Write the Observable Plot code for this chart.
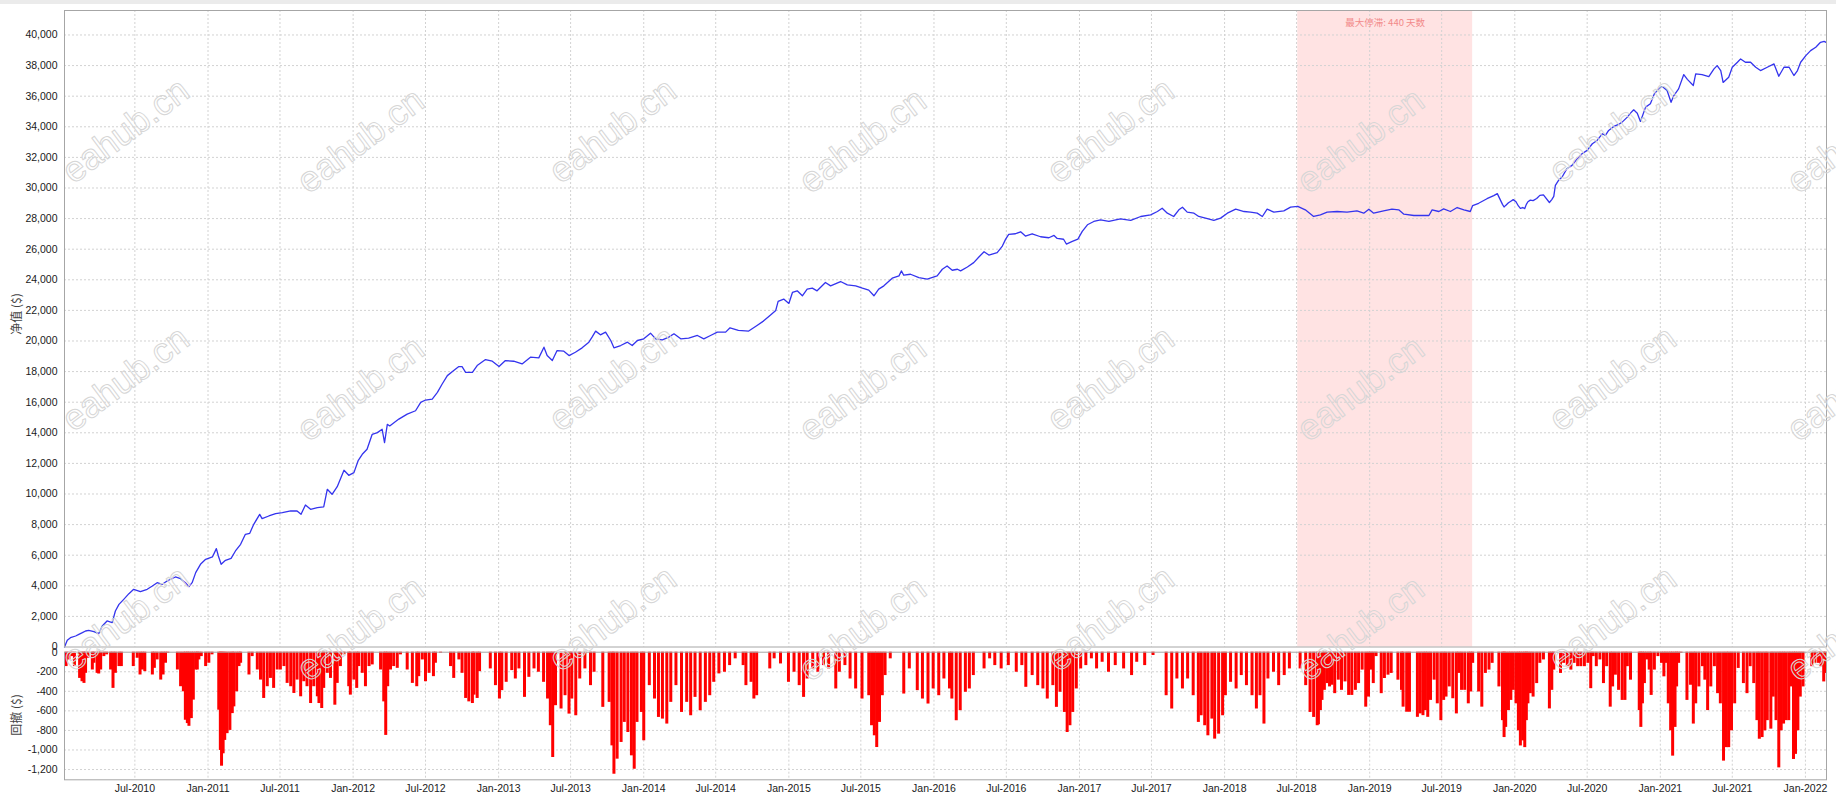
<!DOCTYPE html>
<html>
<head>
<meta charset="utf-8">
<script src="https://cdn.jsdelivr.net/npm/d3@7"></script>
<script src="https://cdn.jsdelivr.net/npm/@observablehq/plot@0.6"></script>
<style>
html,body{margin:0;padding:0;background:#fff;}
#wrap{position:relative;width:1836px;height:796px;overflow:hidden;background:#fff;}
#topbar{position:absolute;left:0;top:0;width:1836px;height:4px;background:#ebebeb;}
#topChart,#ddChart{position:absolute;left:0;}
#topChart{top:0;}
#ddChart{top:640px;}
.ytitle{position:absolute;font-family:"Noto Sans CJK SC","Liberation Sans",sans-serif;font-size:12px;color:#444;transform:translate(-50%,-50%) rotate(-90deg);white-space:nowrap;}
</style>
</head>
<body>
<div id="wrap">
  <div id="topbar"></div>
  <div id="ddChart"></div>
  <div id="topChart"></div>
  <div class="ytitle" id="t1" style="left:15px;top:314px;">净值 ($)</div>
  <div class="ytitle" id="t2" style="left:15px;top:715px;">回撤 ($)</div>
</div>
<script>
// ---------------- data ----------------
const xDomainStart = "2010-01-05";
const xDomainEnd = "2022-02-23";

const xTickDates = ["2010-07-01","2011-01-01","2011-07-01","2012-01-01","2012-07-01","2013-01-01","2013-07-01",
  "2014-01-01","2014-07-01","2015-01-01","2015-07-01","2016-01-01","2016-07-01","2017-01-01","2017-07-01",
  "2018-01-01","2018-07-01","2019-01-01","2019-07-01","2020-01-01","2020-07-01","2021-01-01","2021-07-01","2022-01-01"];

const equityTicks = [0,2000,4000,6000,8000,10000,12000,14000,16000,18000,20000,22000,24000,26000,28000,30000,32000,34000,36000,38000,40000];
const drawdownTicks = [0,-200,-400,-600,-800,-1000,-1200];

const stagnationStart = "2018-07-04";
const stagnationDays = 440;

// equity curve (net value, $)
const equity = [
["2010-01-05",0],["2010-01-12",436],["2010-01-20",610],["2010-02-02",719],["2010-02-10",828],["2010-02-19",937],
["2010-02-27",1046],["2010-03-07",1090],["2010-03-20",1002],["2010-04-01",872],["2010-04-10",1373],["2010-04-22",1700],
["2010-05-05",1590],["2010-05-13",2353],["2010-05-22",2789],["2010-06-03",3116],["2010-06-16",3486],["2010-06-28",3770],
["2010-07-15",3617],["2010-08-01",3770],["2010-08-14",3988],["2010-08-26",4205],["2010-09-08",4097],["2010-09-20",4314],
["2010-10-11",4576],["2010-10-24",4467],["2010-11-05",4205],["2010-11-14",3944],["2010-11-22",4205],["2010-12-01",4859],
["2010-12-13",5404],["2010-12-26",5731],["2011-01-12",5883],["2011-01-22",6428],["2011-01-27",5949],["2011-02-03",5404],
["2011-02-14",5665],["2011-02-28",5796],["2011-03-11",6276],["2011-03-24",6711],["2011-04-05",7365],["2011-04-16",7430],
["2011-04-26",8019],["2011-05-11",8672],["2011-05-17",8389],["2011-06-03",8563],["2011-06-20",8716],["2011-07-07",8781],
["2011-07-28",8890],["2011-08-13",8890],["2011-08-23",8672],["2011-09-03",9282],["2011-09-16",9000],["2011-10-03",9108],
["2011-10-19",9152],["2011-10-28",10307],["2011-11-09",9980],["2011-11-22",10481],["2011-12-09",11549],["2011-12-21",11222],
["2012-01-03",11396],["2012-01-14",12202],["2012-01-24",12595],["2012-02-05",12921],["2012-02-18",13902],["2012-03-02",14011],
["2012-03-14",14229],["2012-03-20",13357],["2012-03-27",14555],["2012-04-02",14447],["2012-04-25",14895],["2012-05-16",15223],
["2012-06-06",15442],["2012-06-19",15988],["2012-07-01",16141],["2012-07-18",16207],["2012-07-31",16644],["2012-08-12",17190],
["2012-08-25",17737],["2012-09-10",18065],["2012-09-23",18327],["2012-10-01",18327],["2012-10-10",17955],["2012-10-27",17955],
["2012-11-08",18393],["2012-11-29",18786],["2012-12-16",18677],["2013-01-02",18327],["2013-01-18",18720],["2013-02-08",18677],
["2013-03-01",18502],["2013-03-22",18939],["2013-04-12",18895],["2013-04-25",19595],["2013-05-03",19048],["2013-05-16",18720],
["2013-05-28",19376],["2013-06-14",19333],["2013-06-27",19048],["2013-07-13",19267],["2013-07-30",19551],["2013-08-16",19923],
["2013-08-24",20251],["2013-09-02",20644],["2013-09-14",20404],["2013-09-27",20579],["2013-10-10",20032],["2013-10-18",19551],
["2013-11-04",19704],["2013-11-21",19923],["2013-12-03",19704],["2013-12-16",20032],["2014-01-01",20142],["2014-01-18",20513],
["2014-01-31",20142],["2014-02-17",20076],["2014-03-05",20251],["2014-03-18",20469],["2014-04-04",20142],["2014-04-24",20185],
["2014-05-16",20360],["2014-06-01",20142],["2014-06-18",20360],["2014-07-05",20579],["2014-07-26",20579],["2014-08-06",20863],
["2014-08-27",20700],["2014-09-22",20650],["2014-10-12",21000],["2014-10-29",21300],["2014-11-16",21700],["2014-11-29",22000],
["2014-12-05",22585],["2014-12-19",22737],["2015-01-01",22455],["2015-01-10",23171],["2015-01-22",23279],["2015-02-04",22954],
["2015-02-16",23388],["2015-03-01",23453],["2015-03-13",23279],["2015-04-03",23821],["2015-04-16",23604],["2015-05-11",23886],
["2015-05-28",23670],["2015-06-18",23604],["2015-07-05",23453],["2015-07-21",23322],["2015-08-03",22954],["2015-08-15",23388],
["2015-08-28",23604],["2015-09-18",24103],["2015-10-05",24255],["2015-10-11",24580],["2015-10-17",24298],["2015-11-03",24363],
["2015-11-24",24146],["2015-12-15",24038],["2016-01-09",24255],["2016-01-22",24688],["2016-02-03",24905],["2016-02-16",24623],
["2016-02-29",24688],["2016-03-08",24580],["2016-03-25",24840],["2016-04-10",25122],["2016-04-23",25491],["2016-05-06",25837],
["2016-05-18",25620],["2016-06-08",25772],["2016-06-21",26206],["2016-06-29",26640],["2016-07-07",26965],["2016-07-24",27008],
["2016-08-06",27138],["2016-08-18",26856],["2016-09-04",27008],["2016-09-25",26813],["2016-10-16",26748],["2016-10-29",26900],
["2016-11-06",26700],["2016-11-22",26650],["2016-11-29",26336],["2016-12-14",26510],["2016-12-28",26662],["2017-01-08",27161],
["2017-01-21",27595],["2017-02-06",27812],["2017-02-23",27920],["2017-03-16",27812],["2017-04-14",27986],["2017-05-10",27877],
["2017-06-04",28137],["2017-06-29",28246],["2017-07-16",28463],["2017-07-28",28680],["2017-08-10",28354],["2017-08-26",28137],
["2017-09-08",28571],["2017-09-17",28745],["2017-09-29",28420],["2017-10-16",28354],["2017-10-28",28137],["2017-11-14",28029],
["2017-12-05",27877],["2017-12-22",28029],["2018-01-08",28354],["2018-01-29",28615],["2018-02-19",28463],["2018-03-07",28420],
["2018-03-24",28354],["2018-04-06",28137],["2018-04-18",28615],["2018-05-05",28420],["2018-05-30",28506],["2018-06-16",28745],
["2018-07-04",28800],["2018-07-23",28571],["2018-08-13",28137],["2018-08-30",28246],["2018-09-16",28420],["2018-10-11",28463],
["2018-11-05",28420],["2018-11-30",28506],["2018-12-17",28354],["2018-12-30",28615],["2019-01-11",28354],["2019-02-05",28506],
["2019-02-26",28615],["2019-03-15",28571],["2019-03-28",28289],["2019-04-22",28202],["2019-05-09",28202],["2019-05-30",28202],
["2019-06-07",28571],["2019-06-24",28463],["2019-07-06",28637],["2019-07-23",28463],["2019-08-09",28723],["2019-08-26",28571],
["2019-09-11",28463],["2019-09-17",28850],["2019-10-02",29000],["2019-10-23",29300],["2019-11-09",29500],["2019-11-18",29630],
["2019-12-01",28930],["2019-12-05",28757],["2019-12-09",28861],["2019-12-16",29033],["2019-12-22",29137],["2019-12-28",29240],
["2020-01-04",29102],["2020-01-10",28826],["2020-01-15",28671],["2020-01-21",28723],["2020-01-26",28654],["2020-01-30",28930],
["2020-02-03",29102],["2020-02-09",29206],["2020-02-16",29171],["2020-02-25",29309],["2020-03-04",29516],["2020-03-13",29551],
["2020-03-28",29050],["2020-04-03",29240],["2020-04-08",29447],["2020-04-12",30174],["2020-04-20",30500],["2020-04-29",30717],
["2020-05-11",31261],["2020-05-24",31478],["2020-06-06",31913],["2020-06-18",32239],["2020-07-01",32456],["2020-07-14",32891],
["2020-07-26",33109],["2020-08-08",33543],["2020-08-16",33435],["2020-08-24",33761],["2020-09-06",34022],["2020-09-18",34152],
["2020-09-27",34304],["2020-10-10",34630],["2020-10-18",34891],["2020-10-26",35109],["2020-11-04",34891],["2020-11-12",34350],
["2020-11-25",35283],["2020-12-07",35500],["2020-12-17",36152],["2020-12-28",36478],["2021-01-06",36630],["2021-01-18",36370],
["2021-01-28",35600],["2021-02-04",36043],["2021-02-16",36478],["2021-03-01",37413],["2021-03-10",37100],["2021-03-25",36700],
["2021-03-31",37457],["2021-04-16",37413],["2021-05-03",37283],["2021-05-16",37783],["2021-05-24",38000],["2021-06-02",37674],
["2021-06-08",36900],["2021-06-22",37239],["2021-07-01",37891],["2021-07-14",38217],["2021-07-22",38435],["2021-08-03",38217],
["2021-08-16",38217],["2021-08-29",37891],["2021-09-10",37674],["2021-09-27",37891],["2021-10-14",38109],["2021-10-26",37300],
["2021-11-08",37891],["2021-11-21",37891],["2021-12-03",37350],["2021-12-12",37674],["2021-12-20",38217],["2022-01-02",38652],
["2022-01-14",38978],["2022-01-27",39196],["2022-02-08",39522],["2022-02-17",39587],["2022-02-22",39522]
];

// drawdown bars ($)
const drawdown = [
["2010-01-09",-147],["2010-01-16",-79],["2010-01-24",-45],["2010-01-30",-147],["2010-02-12",-268],["2010-02-18",-302],
["2010-02-23",-319],["2010-02-27",-216],["2010-03-05",-62],["2010-03-16",-182],["2010-03-20",-113],["2010-03-28",-216],
["2010-04-01",-223],["2010-04-06",-182],["2010-04-14",-45],["2010-04-21",-27],["2010-05-01",-182],["2010-05-07",-370],
["2010-05-13",-216],["2010-05-22",-147],["2010-05-28",-147],["2010-06-27",-147],["2010-07-07",-62],["2010-07-14",-233],
["2010-07-20",-182],["2010-07-26",-199],["2010-08-14",-233],["2010-08-19",-165],["2010-08-26",-79],["2010-09-04",-285],
["2010-09-10",-233],["2010-09-16",-113],["2010-09-22",-10],["2010-10-16",-182],["2010-10-24",-353],["2010-10-31",-405],
["2010-11-05",-696],["2010-11-10",-730],["2010-11-14",-758],["2010-11-20",-679],["2010-11-25",-490],["2010-12-01",-182],
["2010-12-05",-182],["2010-12-09",-79],["2010-12-15",-45],["2010-12-26",-147],["2011-01-03",-113],["2011-01-11",-27],
["2011-01-28",-593],["2011-02-01",-1005],["2011-02-04",-1166],["2011-02-08",-1039],["2011-02-12",-902],["2011-02-18",-833],
["2011-02-25",-800],["2011-03-03",-628],["2011-03-07",-559],["2011-03-14",-405],["2011-03-20",-147],["2011-03-24",-113],
["2011-04-14",-233],["2011-04-22",-45],["2011-05-05",-182],["2011-05-13",-285],["2011-05-21",-473],["2011-05-30",-353],
["2011-06-07",-268],["2011-06-15",-370],["2011-06-24",-182],["2011-07-02",-182],["2011-07-11",-147],["2011-07-19",-319],
["2011-07-28",-353],["2011-08-05",-422],["2011-08-13",-285],["2011-08-22",-456],["2011-08-30",-302],["2011-09-07",-353],
["2011-09-16",-525],["2011-09-24",-353],["2011-10-03",-456],["2011-10-07",-525],["2011-10-14",-576],["2011-10-19",-370],
["2011-10-28",-216],["2011-11-05",-268],["2011-11-16",-542],["2011-11-22",-319],["2011-11-30",-147],["2011-12-09",-27],
["2011-12-21",-353],["2011-12-25",-439],["2012-01-03",-285],["2012-01-10",-370],["2012-01-15",-147],["2012-01-24",-216],
["2012-02-01",-353],["2012-02-10",-147],["2012-02-18",-130],["2012-03-10",-182],["2012-03-18",-508],["2012-03-23",-851],
["2012-03-28",-353],["2012-04-04",-182],["2012-04-12",-147],["2012-04-21",-165],["2012-04-29",-27],["2012-05-16",-182],
["2012-05-29",-319],["2012-06-09",-353],["2012-06-14",-250],["2012-06-23",-79],["2012-07-01",-302],["2012-07-10",-216],
["2012-07-21",-250],["2012-07-26",-113],["2012-08-08",-10],["2012-09-02",-147],["2012-09-10",-268],["2012-09-23",-79],
["2012-10-01",-216],["2012-10-10",-473],["2012-10-18",-508],["2012-10-27",-525],["2012-10-31",-439],["2012-11-08",-473],
["2012-11-14",-199],["2012-12-11",-171],["2012-12-24",-342],["2013-01-03",-479],["2013-01-09",-393],["2013-01-20",-308],
["2013-02-03",-188],["2013-02-12",-274],["2013-02-21",-171],["2013-03-07",-462],["2013-03-18",-257],["2013-03-31",-171],
["2013-04-11",-205],["2013-04-24",-308],["2013-05-04",-479],["2013-05-11",-752],["2013-05-17",-1077],["2013-05-24",-547],
["2013-06-07",-581],["2013-06-17",-445],["2013-06-27",-633],["2013-07-04",-479],["2013-07-14",-650],["2013-07-24",-274],
["2013-08-06",-171],["2013-08-20",-342],["2013-08-29",-205],["2013-09-20",-564],["2013-10-06",-513],["2013-10-13",-958],
["2013-10-18",-1248],["2013-10-26",-1094],["2013-11-05",-923],["2013-11-13",-718],["2013-11-22",-821],["2013-12-01",-1060],
["2013-12-08",-1197],["2013-12-15",-718],["2013-12-26",-616],["2014-01-01",-906],["2014-01-15",-342],["2014-01-28",-479],
["2014-02-07",-667],["2014-02-17",-684],["2014-02-28",-735],["2014-03-10",-513],["2014-03-23",-342],["2014-04-06",-616],
["2014-04-19",-513],["2014-04-29",-650],["2014-05-10",-462],["2014-05-23",-599],["2014-06-05",-513],["2014-06-16",-445],
["2014-06-26",-308],["2014-07-09",-222],["2014-07-23",-205],["2014-08-05",-137],["2014-08-19",-68],["2014-09-08",-137],
["2014-09-15",-342],["2014-09-28",-308],["2014-10-05",-479],["2014-10-12",-445],["2014-11-14",-171],["2014-11-25",-68],
["2014-12-11",-120],["2014-12-31",-308],["2015-01-14",-205],["2015-01-27",-342],["2015-02-07",-462],["2015-02-16",-274],
["2015-03-02",-171],["2015-03-15",-205],["2015-03-29",-137],["2015-04-11",-171],["2015-04-29",-376],["2015-05-08",-205],
["2015-05-22",-137],["2015-06-04",-274],["2015-06-18",-376],["2015-07-04",-479],["2015-07-21",-445],["2015-07-28",-752],
["2015-08-04",-855],["2015-08-10",-975],["2015-08-17",-718],["2015-08-24",-445],["2015-08-31",-239],["2015-09-13",-68],
["2015-10-17",-428],["2015-10-31",-171],["2015-11-20",-393],["2015-12-03",-479],["2015-12-17",-530],["2015-12-30",-376],
["2016-01-13",-445],["2016-01-26",-274],["2016-02-09",-376],["2016-02-15",-479],["2016-02-26",-701],["2016-03-07",-598],
["2016-03-20",-410],["2016-03-30",-376],["2016-04-09",-239],["2016-05-06",-171],["2016-05-20",-68],["2016-06-02",-137],
["2016-06-18",-171],["2016-07-06",-137],["2016-07-26",-205],["2016-08-09",-137],["2016-08-19",-359],["2016-09-04",-239],
["2016-09-18",-342],["2016-10-01",-376],["2016-10-12",-479],["2016-10-26",-342],["2016-11-04",-564],["2016-11-13",-410],
["2016-11-24",-616],["2016-12-01",-821],["2016-12-08",-752],["2016-12-15",-616],["2016-12-24",-376],["2017-01-04",-171],
["2017-01-17",-137],["2017-01-31",-68],["2017-02-13",-171],["2017-02-27",-103],["2017-03-15",-205],["2017-04-01",-137],
["2017-04-22",-171],["2017-05-12",-239],["2017-05-25",-103],["2017-06-14",-137],["2017-07-05",-34],["2017-08-07",-445],
["2017-08-21",-581],["2017-09-03",-274],["2017-09-17",-376],["2017-09-30",-274],["2017-10-14",-445],["2017-10-27",-718],
["2017-11-03",-650],["2017-11-12",-752],["2017-11-20",-855],["2017-11-30",-684],["2017-12-07",-889],["2017-12-17",-838],
["2017-12-27",-650],["2018-01-03",-445],["2018-01-16",-308],["2018-01-30",-376],["2018-02-12",-239],["2018-02-25",-342],
["2018-03-11",-445],["2018-03-22",-581],["2018-03-31",-445],["2018-04-10",-735],["2018-04-20",-274],["2018-05-04",-205],
["2018-05-17",-342],["2018-05-31",-239],["2018-06-13",-171],["2018-07-10",-171],["2018-07-24",-342],["2018-08-04",-616],
["2018-08-13",-667],["2018-08-22",-752],["2018-08-25",-742],["2018-08-30",-597],["2018-09-03",-493],["2018-09-09",-390],
["2018-09-16",-321],["2018-09-22",-355],["2018-09-28",-338],["2018-10-05",-424],["2018-10-14",-286],["2018-10-22",-390],
["2018-10-31",-304],["2018-11-09",-442],["2018-11-17",-442],["2018-11-26",-390],["2018-12-04",-321],["2018-12-13",-183],
["2018-12-22",-562],["2018-12-29",-459],["2019-01-04",-183],["2019-01-10",-321],["2019-01-17",-45],["2019-01-30",-424],
["2019-02-07",-269],["2019-02-16",-235],["2019-02-24",-217],["2019-03-13",-286],["2019-03-22",-390],["2019-03-26",-562],
["2019-04-04",-614],["2019-04-11",-614],["2019-05-01",-666],["2019-05-08",-631],["2019-05-15",-649],["2019-05-21",-597],
["2019-05-27",-666],["2019-06-03",-493],["2019-06-12",-286],["2019-06-20",-528],["2019-06-29",-700],["2019-07-06",-493],
["2019-07-12",-459],["2019-07-20",-355],["2019-07-29",-476],["2019-08-07",-631],["2019-08-13",-217],["2019-08-20",-390],
["2019-08-28",-390],["2019-09-06",-528],["2019-09-12",-407],["2019-09-17",-114],["2019-10-02",-407],["2019-10-10",-562],
["2019-10-19",-217],["2019-10-28",-183],["2019-11-05",-114],["2019-11-22",-355],["2019-12-01",-700],["2019-12-05",-873],
["2019-12-09",-769],["2019-12-16",-597],["2019-12-22",-493],["2019-12-28",-390],["2020-01-04",-528],["2020-01-10",-804],
["2020-01-15",-959],["2020-01-21",-907],["2020-01-26",-976],["2020-01-30",-700],["2020-02-03",-528],["2020-02-09",-424],
["2020-02-16",-459],["2020-02-25",-321],["2020-03-04",-114],["2020-03-13",-79],["2020-03-28",-580],["2020-04-03",-390],
["2020-04-08",-183],["2020-04-25",-217],["2020-05-03",-114],["2020-05-12",-148],["2020-05-21",-183],["2020-05-29",-114],
["2020-06-07",-148],["2020-06-15",-148],["2020-06-24",-148],["2020-07-03",-114],["2020-07-10",-373],["2020-07-16",-45],
["2020-07-24",-148],["2020-08-02",-79],["2020-08-11",-321],["2020-08-19",-148],["2020-08-28",-562],["2020-09-03",-355],
["2020-09-10",-235],["2020-09-18",-390],["2020-09-27",-493],["2020-10-04",-493],["2020-10-10",-148],["2020-10-18",-286],
["2020-11-09",-597],["2020-11-13",-769],["2020-11-17",-528],["2020-11-22",-321],["2020-11-28",-79],["2020-12-04",-183],
["2020-12-09",-442],["2020-12-17",-183],["2020-12-26",-45],["2021-01-04",-114],["2021-01-10",-252],["2021-01-15",-114],
["2021-01-21",-528],["2021-01-27",-804],["2021-02-01",-1063],["2021-02-07",-769],["2021-02-11",-355],["2021-02-16",-114],
["2021-02-22",-10],["2021-03-09",-493],["2021-03-18",-338],["2021-03-25",-735],["2021-03-31",-528],["2021-04-08",-355],
["2021-04-17",-148],["2021-04-23",-286],["2021-04-30",-597],["2021-05-08",-355],["2021-05-17",-148],["2021-05-25",-424],
["2021-06-01",-528],["2021-06-09",-1114],["2021-06-16",-976],["2021-06-22",-976],["2021-06-29",-804],["2021-07-07",-528],
["2021-07-16",-166],["2021-07-29",-321],["2021-08-07",-424],["2021-08-15",-148],["2021-08-24",-321],["2021-09-01",-700],
["2021-09-07",-890],["2021-09-14",-873],["2021-09-21",-804],["2021-09-27",-700],["2021-10-06",-787],["2021-10-12",-459],
["2021-10-19",-700],["2021-10-26",-1183],["2021-11-01",-804],["2021-11-07",-735],["2021-11-13",-700],["2021-11-20",-700],
["2021-11-26",-355],["2021-12-02",-1097],["2021-12-07",-1045],["2021-12-13",-804],["2021-12-19",-459],["2021-12-26",-355],
["2022-01-17",-148],["2022-01-25",-114],["2022-02-03",-114],["2022-02-09",-148],["2022-02-16",-304],["2022-02-20",-217]
];

// ---------------- chart ----------------
const parse = d3.utcParse("%Y-%m-%d");
const eq = equity.map(([d, v]) => ({date: parse(d), value: v}));
const dd = drawdown.map(([d, v]) => ({date: parse(d), value: v}));
const xDomain = [parse(xDomainStart), parse(xDomainEnd)];
const xTicks = xTickDates.map(parse);
const sStart = parse(stagnationStart);
const sEnd = d3.utcDay.offset(sStart, stagnationDays);
const stag = [{start: sStart, end: sEnd, mid: new Date((+sStart + +sEnd) / 2), label: `最大停滞: ${stagnationDays} 天数`}];
const fmt = d => d.toLocaleString("en-US");

const baseStyle = {
  fontSize: "10.5px",
  fontFamily: "'Liberation Sans', Arial, sans-serif",
  color: "#1a1a1a",
  background: "transparent",
  overflow: "visible",
  maxWidth: "none"
};
const grid = {stroke: "#d2d2d2", strokeDasharray: "2,2", strokeWidth: 1};
const frameColor = "#a6a6a6";

const topPlot = Plot.plot({
  width: 1836,
  height: 660,
  marginTop: 10,
  marginBottom: 13.5,
  marginLeft: 64,
  marginRight: 10,
  style: baseStyle,
  x: {type: "utc", domain: xDomain, axis: null},
  y: {domain: [0, 41600], ticks: equityTicks, tickFormat: fmt, tickSize: 0, tickPadding: 7, label: null},
  marks: [
    Plot.rect(stag, {x1: "start", x2: "end", fill: "#ffe3e3"}),
    Plot.ruleX(xTicks, grid),
    Plot.ruleY(equityTicks.filter(t => t > 0), grid),
    Plot.line(eq, {x: "date", y: "value", stroke: "#3434ee", strokeWidth: 1.3}),
    Plot.text(stag, {x: "mid", text: "label", frameAnchor: "top", dy: 9, fill: "#f28a8a", fontSize: 9.5,
      fontFamily: "'Noto Sans CJK SC', sans-serif"}),
    Plot.frame({stroke: frameColor})
  ]
});
document.getElementById("topChart").append(topPlot);

const ddPlot = Plot.plot({
  width: 1836,
  height: 156,
  marginTop: 11.7,
  marginBottom: 16.7,
  marginLeft: 64,
  marginRight: 10,
  style: baseStyle,
  x: {type: "utc", domain: xDomain, ticks: xTicks, tickFormat: d3.utcFormat("%b-%Y"), tickSize: 0, tickPadding: 5, label: null},
  y: {domain: [-1305, 0], ticks: drawdownTicks, tickFormat: fmt, tickSize: 0, tickPadding: 7, label: null},
  marks: [
    Plot.ruleX(xTicks, grid),
    Plot.ruleY(drawdownTicks.filter(t => t < 0), grid),
    Plot.ruleX(dd, {x: "date", y1: 0, y2: "value", stroke: "#ff0000", strokeWidth: 3}),
    Plot.frame({stroke: frameColor})
  ]
});
document.getElementById("ddChart").append(ddPlot);

// watermark overlay (decoration of the screenshot)
const wm = d3.select("#wrap").append("svg")
  .attr("width", 1836).attr("height", 796)
  .style("position", "absolute").style("left", "0px").style("top", "0px")
  .style("pointer-events", "none");
const wmCols = [125, 360, 612, 862, 1110, 1360, 1612, 1850];
const wmRows = [130, 378, 618];
wmRows.forEach(cy => wmCols.forEach((cx, i) => {
  wm.append("text")
    .attr("transform", `translate(${cx},${cy + (i % 2) * 10}) rotate(-37)`)
    .attr("text-anchor", "middle").attr("dy", "0.35em")
    .attr("font-family", "'Liberation Sans', Arial, sans-serif")
    .attr("font-size", 36)
    .attr("fill", "none").attr("stroke", "#d6d6d6").attr("stroke-width", 1)
    .text("eahub.cn");
}));
</script>
</body>
</html>
